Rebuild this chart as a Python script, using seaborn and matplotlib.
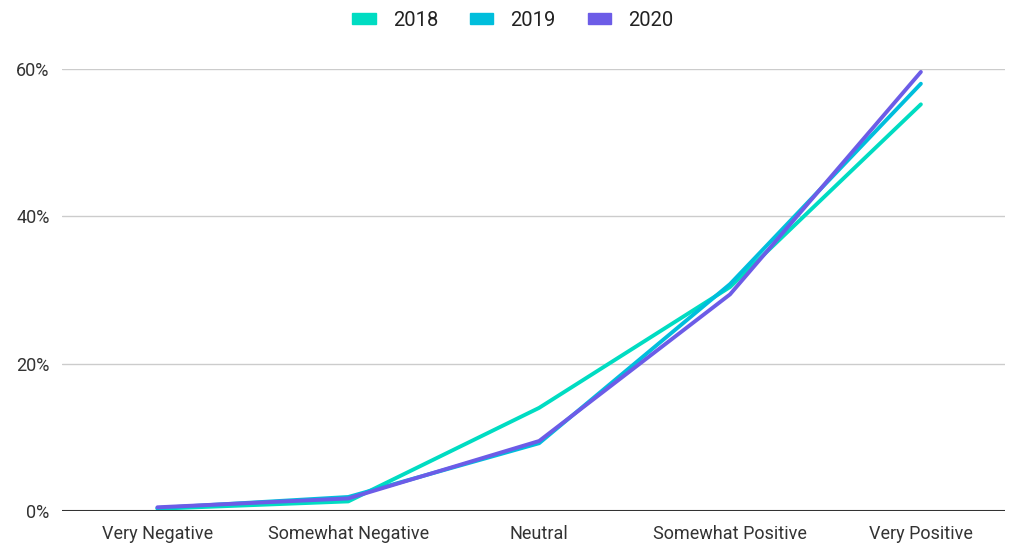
import pandas as pd
import seaborn as sns
import matplotlib.pyplot as plt
from matplotlib.ticker import FuncFormatter

categories = ["Very Negative", "Somewhat Negative", "Neutral", "Somewhat Positive", "Very Positive"]
years = ["2018", "2019", "2020"]
share_2018 = [0.3, 1.3, 14.0, 30.4, 55.2]
share_2019 = [0.4, 1.9, 9.2, 30.8, 58.0]
share_2020 = [0.5, 1.7, 9.5, 29.4, 59.6]
colors = ["#00dcc2", "#00bedc", "#6c5ce7"]

df = pd.DataFrame({
    "category": categories * 3,
    "year": [y for y in years for _ in categories],
    "share": share_2018 + share_2019 + share_2020,
})

sns.set_style("white")
plt.rcParams["font.family"] = ["Roboto", "DejaVu Sans"]

fig = plt.figure(figsize=(10.26, 5.44), dpi=100)
ax = fig.add_axes([0.0604, 0.0607, 0.919, 0.8125])

sns.lineplot(data=df, x="category", y="share", hue="year", palette=colors,
             linewidth=2.8, sort=False, ax=ax, legend=False)

ax.set_ylim(0, 60)
ax.set_xlim(-0.5, 4.44)
ax.set_yticks([0, 20, 40, 60])
ax.yaxis.set_major_formatter(FuncFormatter(lambda v, p: f"{v:.0f}%"))
ax.grid(axis="y", color="#cccccc", linewidth=1)
ax.set_axisbelow(True)
ax.axhline(0, color="#333333", linewidth=1.5, zorder=3)
for s in ax.spines.values():
    s.set_visible(False)
ax.set_xlabel("")
ax.set_ylabel("")
ax.tick_params(axis="both", length=0, labelsize=13, labelcolor="#333333")
ax.tick_params(axis="y", pad=9)
ax.tick_params(axis="x", pad=10)

handles = [plt.Rectangle((0, 0), 1, 1, color=c) for c in colors]
fig.legend(handles, years, loc="center", bbox_to_anchor=(0.5, 0.963), ncol=3,
           frameon=False, fontsize=14.5, handlelength=1.15, handleheight=0.4,
           handletextpad=0.85, columnspacing=1.6, labelcolor="#222222")

fig.savefig("out.png", dpi=100)
